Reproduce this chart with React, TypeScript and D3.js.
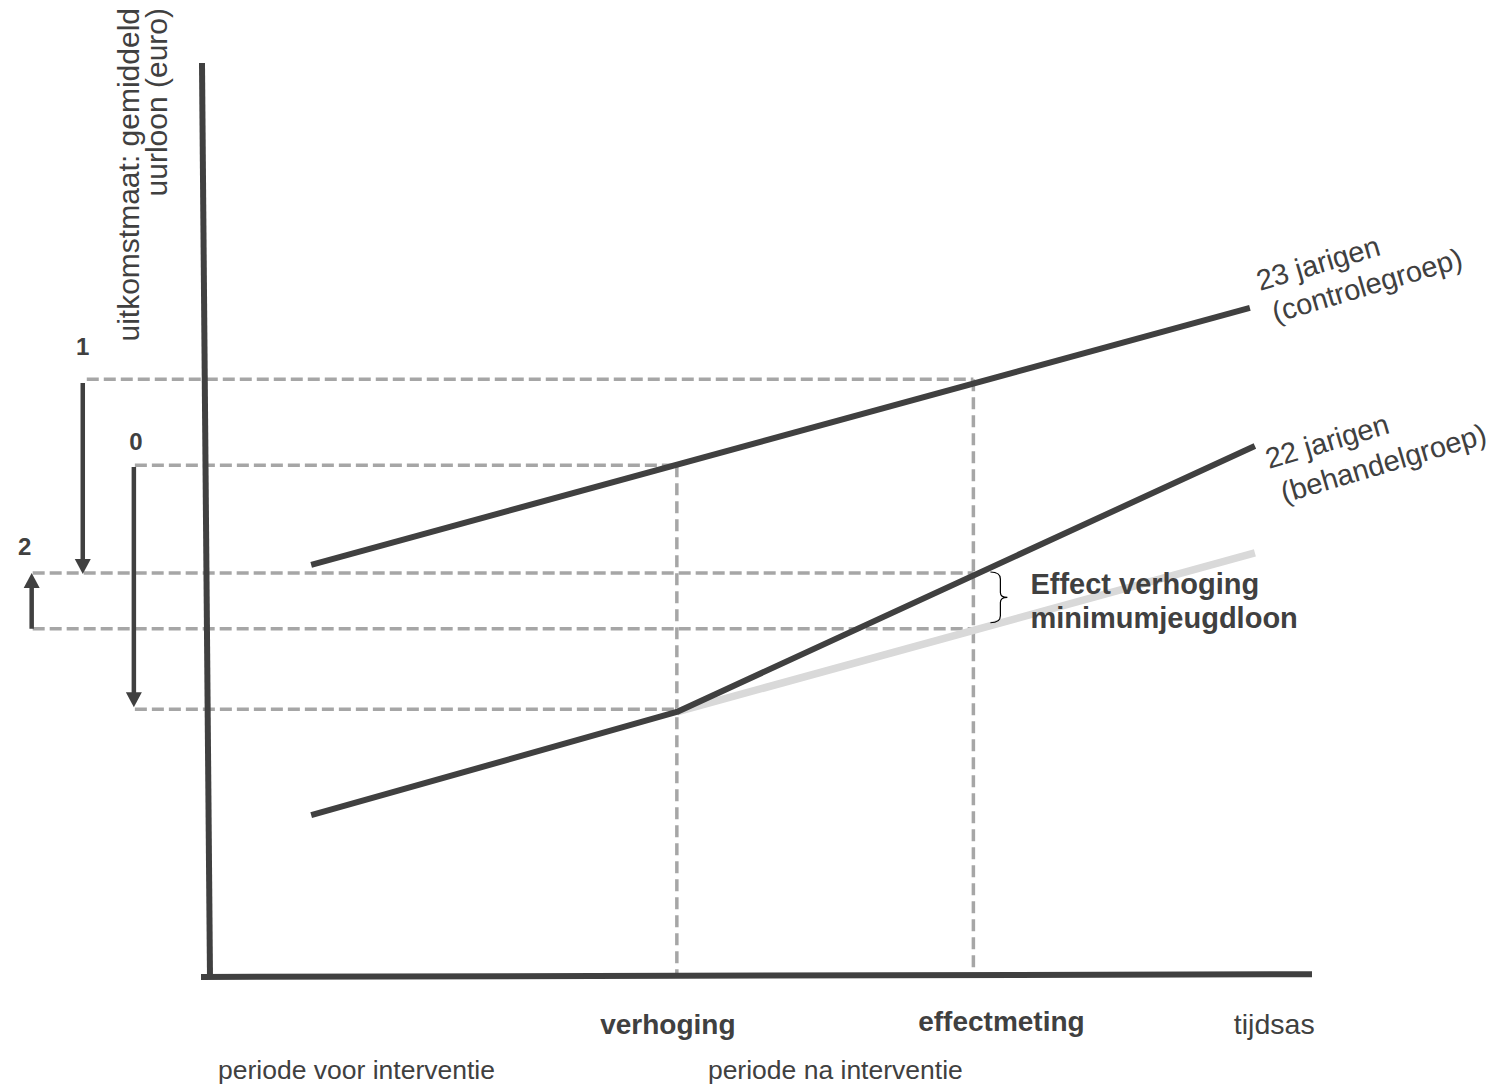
import React from "react";
import * as d3 from "d3";

const W = 1491;
const H = 1085;

// abstract axes of the schematic (time in periods, outcome in euro units)
const timeDomain: [number, number] = [0, 11];
const outcomeDomain: [number, number] = [0, 10];

const tVerhoging = 4.66;
const tEffectmeting = 7.62;
const tAxisLeft = -0.09;
const tAxisRight = 11;
const tYAxisTop = -0.08;

// series: 23-year-olds (control), 22-year-olds (treatment), counterfactual trend
const controlGroup = [
  { t: 1.01, v: 4.51 },
  { t: 10.38, v: 7.32 },
];
const treatmentGroup = [
  { t: 1.01, v: 1.77 },
  { t: 4.66, v: 2.9 },
  { t: 10.43, v: 5.81 },
];
const counterfactualTrend = [
  { t: 4.66, v: 2.9 },
  { t: 10.43, v: 4.64 },
];

// measured outcome levels (dashed guide lines)
const levels = [
  { key: "c-after", v: 6.54, from: -1.23, to: tEffectmeting },
  { key: "c-before", v: 5.6, from: -0.75, to: tVerhoging },
  { key: "t-after", v: 4.42, from: -1.77, to: tEffectmeting },
  { key: "cf-after", v: 3.81, from: -1.77, to: tEffectmeting },
  { key: "t-before", v: 2.93, from: -0.75, to: tVerhoging },
];

// difference arrows with their labels
const arrows = [
  { label: "1", t: -1.27, from: 6.5, to: 4.41, labelT: -1.27, labelV: 6.8 },
  { label: "0", t: -0.76, from: 5.58, to: 2.95, labelT: -0.74, labelV: 5.77 },
  { label: "2", t: -1.78, from: 3.81, to: 4.42, labelT: -1.85, labelV: 4.62 },
];

const timeLabels = [
  { text: "verhoging", t: 4.57, bold: true, anchor: "middle", dy: 0, size: 28 },
  { text: "effectmeting", t: 7.9, bold: true, anchor: "middle", dy: -3, size: 28 },
  { text: "tijdsas", t: 10.22, bold: false, anchor: "start", dy: 0, size: 28.5 },
];
const periodLabels = [
  { text: "periode voor interventie", t: 0.08 },
  { text: "periode na interventie", t: 4.97 },
];

const yLabelLines = ["uitkomstmaat: gemiddeld", "uurloon (euro)"];
const controlLabel = ["23 jarigen", "(controlegroep)"];
const treatmentLabel = ["22 jarigen", "(behandelgroep)"];
const effectLabel = ["Effect verhoging", "minimumjeugdloon"];

const FONT = "'Liberation Sans', Arial, Helvetica, sans-serif";
const DARK = "#404040";
const DASH = "#a6a6a6";
const LIGHT = "#d9d9d9";

export default function App() {
  const x = d3.scaleLinear().domain(timeDomain).range([210, 1312]);
  const y = d3.scaleLinear().domain(outcomeDomain).range([977, 63]);

  const line = d3
    .line<{ t: number; v: number }>()
    .x((d) => x(d.t))
    .y((d) => y(d.v));

  const arrowHead = (ax: number, tipY: number, dir: number) => {
    const len = 15;
    const hw = 8;
    return `M${ax},${tipY} L${ax - hw},${tipY - dir * len} L${ax + hw},${tipY - dir * len} Z`;
  };

  const byKey = (k: string) => levels.find((l) => l.key === k)!;

  // brace between treatment and counterfactual at effectmeting
  const bx = x(tEffectmeting) + 17;
  const bTop = y(byKey("t-after").v) - 1;
  const bBot = y(byKey("cf-after").v) - 6;
  const bMid = (bTop + bBot) / 2;
  const brace = `M${bx},${bTop} Q${bx + 10},${bTop} ${bx + 10},${bTop + 7} L${bx + 10},${bMid - 5} Q${bx + 10},${bMid} ${bx + 17},${bMid} Q${bx + 10},${bMid} ${bx + 10},${bMid + 5} L${bx + 10},${bBot - 7} Q${bx + 10},${bBot} ${bx},${bBot}`;

  return (
    <svg
      width={W}
      height={H}
      viewBox={`0 0 ${W} ${H}`}
      style={{ position: "absolute", left: 0, top: 0, background: "#fff" }}
      fontFamily={FONT}
    >
      <rect width={W} height={H} fill="#fff" />

      {levels.map((l) => (
        <line
          key={l.key}
          x1={x(l.from)}
          x2={x(l.to)}
          y1={y(l.v)}
          y2={y(l.v)}
          stroke={DASH}
          strokeWidth={3.5}
          strokeDasharray="12 5"
        />
      ))}
      <line
        x1={x(tVerhoging)}
        x2={x(tVerhoging)}
        y1={y(byKey("c-before").v)}
        y2={y(0)}
        stroke={DASH}
        strokeWidth={3.5}
        strokeDasharray="12 6"
      />
      <line
        x1={x(tEffectmeting)}
        x2={x(tEffectmeting)}
        y1={y(byKey("c-after").v)}
        y2={y(0)}
        stroke={DASH}
        strokeWidth={3.5}
        strokeDasharray="12 6"
      />

      <line x1={x(tYAxisTop)} y1={y(10)} x2={x(0)} y2={y(0)} stroke={DARK} strokeWidth={6} />
      <line x1={x(tAxisLeft)} y1={y(0)} x2={x(tAxisRight)} y2={y(0.03)} stroke={DARK} strokeWidth={6} />

      <path d={line(counterfactualTrend)!} fill="none" stroke={LIGHT} strokeWidth={7.5} />
      <path d={line(controlGroup)!} fill="none" stroke={DARK} strokeWidth={6} />
      <path d={line(treatmentGroup)!} fill="none" stroke={DARK} strokeWidth={6} strokeLinejoin="round" />

      {arrows.map((a) => {
        const ax = x(a.t);
        const dir = a.to < a.from ? 1 : -1;
        const tip = y(a.to);
        return (
          <g key={a.label}>
            <line x1={ax} x2={ax} y1={y(a.from)} y2={tip - dir * 13} stroke={DARK} strokeWidth={4.5} />
            <path d={arrowHead(ax, tip, dir)} fill={DARK} />
            <text
              x={x(a.labelT)}
              y={y(a.labelV)}
              textAnchor="middle"
              fontWeight="bold"
              fontSize={24}
              fill={DARK}
            >
              {a.label}
            </text>
          </g>
        );
      })}

      <path d={brace} fill="none" stroke="#000" strokeWidth={1.2} />
      <text fontSize={29} fontWeight="bold" fill={DARK}>
        <tspan x={bx + 40} y={594}>{effectLabel[0]}</tspan>
        <tspan x={bx + 40} y={628}>{effectLabel[1]}</tspan>
      </text>

      <text
        transform={`translate(${x(controlGroup[1].t) + 10},${y(controlGroup[1].v) - 17}) rotate(-16.5)`}
        fontSize={29}
        fill={DARK}
      >
        <tspan x={0} y={0}>{controlLabel[0]}</tspan>
        <tspan x={6} y={35}>{controlLabel[1]}</tspan>
      </text>
      <text
        transform={`translate(${x(treatmentGroup[2].t) + 14},${y(treatmentGroup[2].v) + 23}) rotate(-16.5)`}
        fontSize={29}
        fill={DARK}
      >
        <tspan x={0} y={0}>{treatmentLabel[0]}</tspan>
        <tspan x={5} y={37}>{treatmentLabel[1]}</tspan>
      </text>

      {yLabelLines.map((s, i) => (
        <text
          key={s}
          transform={`translate(${139 + i * 28},8) rotate(-90)`}
          textAnchor="end"
          fontSize={30}
          fill={DARK}
        >
          {s}
        </text>
      ))}

      {timeLabels.map((l) => (
        <text
          key={l.text}
          x={x(l.t)}
          y={1034 + l.dy}
          textAnchor={l.anchor as any}
          fontSize={l.size}
          fontWeight={l.bold ? "bold" : "normal"}
          fill={DARK}
        >
          {l.text}
        </text>
      ))}
      {periodLabels.map((l) => (
        <text key={l.text} x={x(l.t)} y={1079} fontSize={26.5} fill={DARK}>
          {l.text}
        </text>
      ))}
    </svg>
  );
}
